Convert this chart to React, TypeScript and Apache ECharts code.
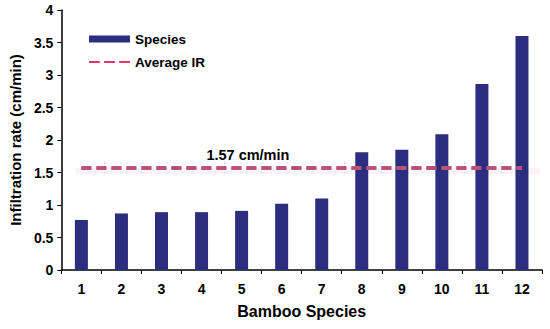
import React, { useEffect, useRef } from "react";
import * as echarts from "echarts";

const categories = ["1", "2", "3", "4", "5", "6", "7", "8", "9", "10", "11", "12"];
const speciesValues = [0.77, 0.87, 0.89, 0.89, 0.91, 1.02, 1.1, 1.81, 1.85, 2.09, 2.86, 3.6];
const averageIR = 1.57;
const yTicks = [0, 0.5, 1, 1.5, 2, 2.5, 3, 3.5, 4];

const FONT = "Liberation Sans, Arial, sans-serif";

export default function App() {
  const ref = useRef<HTMLDivElement>(null);
  useEffect(() => {
    if (!ref.current) return;
    const chart = echarts.init(ref.current, undefined, { renderer: "svg" });
    const avgData: any[] = categories.map((c, i) =>
      i === 0
        ? {
            value: averageIR,
            label: {
              show: true,
              formatter: `${averageIR} cm/min`,
              position: [125, -20],
              fontFamily: FONT,
              fontWeight: "bold",
              fontSize: 14.5,
              color: "#000",
            },
          }
        : averageIR
    );
    chart.setOption({
      animation: false,
      grid: { left: 58, right: 8, top: 10, bottom: 59 },
      legend: {
        orient: "vertical",
        left: 84,
        top: 27,
        itemGap: 9,
        itemWidth: 41,
        itemHeight: 7,
        textStyle: { fontFamily: FONT, fontWeight: "bold", fontSize: 13.5, color: "#000" },
        data: [
          { name: "Species", icon: "rect" },
          {
            name: "Average IR",
            icon: "path://M0,0 L10,0 L10,2 L0,2 Z M14,0 L24,0 L24,2 L14,2 Z M28,0 L38,0 L38,2 L28,2 Z",
            itemStyle: { color: "#E8336A" },
          },
        ],
      },
      xAxis: [
        {
          type: "category",
          data: categories,
          name: "Bamboo Species",
          nameLocation: "middle",
          nameGap: 33,
          nameTextStyle: { fontFamily: FONT, fontWeight: "bold", fontSize: 16, color: "#000" },
          axisLine: { lineStyle: { color: "#000", width: 1.5 } },
          axisTick: { show: true, length: 4, lineStyle: { color: "#000" } },
          axisLabel: { fontFamily: FONT, fontWeight: "bold", fontSize: 14, color: "#000", margin: 12 },
        },
        {
          type: "value",
          min: 0,
          max: 12,
          show: false,
        },
      ],
      yAxis: {
        type: "value",
        min: yTicks[0],
        max: yTicks[yTicks.length - 1],
        interval: 0.5,
        name: "Infiltration rate (cm/min)",
        nameLocation: "middle",
        nameGap: 36,
        nameTextStyle: { fontFamily: FONT, fontWeight: "bold", fontSize: 15, color: "#000" },
        axisLine: { show: true, lineStyle: { color: "#000", width: 1.5 } },
        axisTick: { show: true, length: 4, lineStyle: { color: "#000" } },
        splitLine: { show: false },
        axisLabel: { fontFamily: FONT, fontWeight: "bold", fontSize: 14, color: "#000", margin: 8 },
      },
      series: [
        {
          name: "Species",
          type: "bar",
          data: speciesValues,
          barWidth: 13,
          itemStyle: { color: "#2B2E7E" },
        },
        {
          name: "Average IR",
          type: "line",
          symbol: "circle",
          symbolSize: 0,
          showSymbol: true,
          z: 5,
          lineStyle: { color: "#E8407A", width: 4, type: [10, 5] },
          itemStyle: { color: "#E8336A" },
          data: avgData,
        },
        {
          name: "Average IR core",
          type: "line",
          symbol: "none",
          z: 6,
          silent: true,
          lineStyle: { color: "#8C6A74", width: 2, type: [10, 5] },
          data: categories.map(() => averageIR),
        },
        {
          name: "band",
          type: "line",
          xAxisIndex: 1,
          symbol: "none",
          silent: true,
          z: 4,
          lineStyle: { width: 0, opacity: 0 },
          data: [],
          markArea: {
            silent: true,
            itemStyle: { color: "rgba(245, 185, 222, 0.2)" },
            data: [[{ coord: [0.35, averageIR - 0.09] }, { coord: [11.95, averageIR] }]],
          },
        },
      ],
    });
    return () => chart.dispose();
  }, []);
  return <div ref={ref} style={{ width: 550, height: 329, position: "absolute", left: 0, top: 0, background: "#fff" }} />;
}
